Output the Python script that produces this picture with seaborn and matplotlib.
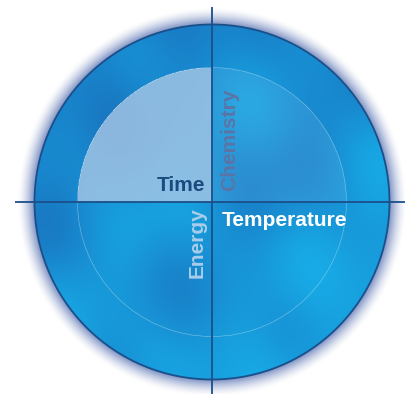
import numpy as np
import matplotlib
matplotlib.use("Agg")
import matplotlib.pyplot as plt
from matplotlib.patches import Circle
import seaborn as sns

# ---- data: the four quadrant labels ----
labels = ["Time", "Chemistry", "Energy", "Temperature"]
label_colors = ["#1b4a80", "#5b74a6", "#a9cdea", "#ffffff"]

sns.set_theme(style="white")
plt.rcParams['font.family'] = ['Liberation Sans', 'DejaVu Sans']

W, H = 406, 394
cx, cy = 212.0, 202.0
R_out, R_in = 177.5, 134.5

fig = plt.figure(figsize=(4.06, 3.94), dpi=100)
ax = fig.add_axes([0, 0, 1, 1])
ax.set_xlim(0, W)
ax.set_ylim(H, 0)
ax.axis('off')

yy, xx = np.mgrid[0:H, 0:W] + 0.5
r = np.hypot(xx - cx, yy - cy)
img = np.ones((H, W, 3))

# soft glow around the disc
t = np.clip((r - R_out) / 17.0, 0, 1)
glow = np.array([0.48, 0.56, 0.76])
w = (1 - t) ** 1.6
outside = r >= R_out
for k in range(3):
    img[..., k] = np.where(outside, glow[k] * w + 1.0 * (1 - w), img[..., k])

# water-like blue texture
dark = np.array([0.10, 0.44, 0.74])
bright = np.array([0.09, 0.68, 0.91])
f = (0.55 + 0.12 * np.sin(xx / 37 + yy / 55) + 0.10 * np.sin(yy / 23 - xx / 61 + 1.3)
     + 0.08 * np.cos((xx + yy) / 29) + 0.06 * np.sin(xx / 15 - yy / 40))
f = f + (yy - cy) / R_out * 0.18 + (xx - cx) / R_out * 0.12
f = np.clip(f, 0, 1)
blue = dark[None, None, :] + (bright - dark)[None, None, :] * f[..., None]

inside = r < R_out
img[inside] = blue[inside]

tl = (r < R_in) & (xx < cx) & (yy < cy)
tr = (r < R_in) & (xx >= cx) & (yy < cy)
img[tl] = blue[tl] * 0.2 + np.array([0.66, 0.78, 0.90]) * 0.8
img[tr] = blue[tr] * 0.85 + np.array([0.60, 0.80, 0.95]) * 0.15

ax.imshow(img, extent=(0, W, H, 0), interpolation='bilinear', zorder=0)

navy = "#1b4f8a"
ax.add_patch(Circle((cx, cy), R_in, fill=False, ec="white", lw=0.5, alpha=0.35, zorder=1))
ax.add_patch(Circle((cx, cy), R_out, fill=False, ec=navy, lw=1.3, zorder=2))
ax.plot([15, 406], [cy, cy], color=navy, lw=1.3, zorder=3, solid_capstyle='butt')
ax.plot([cx, cx], [7, 394], color=navy, lw=1.3, zorder=3, solid_capstyle='butt')

fs = 15
ax.text(205, 191, labels[0], color=label_colors[0], fontsize=fs, fontweight='bold',
        ha='right', va='baseline', zorder=4)
ax.text(235.5, 191, labels[1], color=label_colors[1], fontsize=fs, fontweight='bold',
        ha='left', va='baseline', rotation=90, rotation_mode='anchor', zorder=4)
ax.text(203, 278, labels[2], color=label_colors[2], fontsize=fs, fontweight='bold',
        ha='left', va='baseline', rotation=90, rotation_mode='anchor', zorder=4)
ax.text(222, 226, labels[3], color=label_colors[3], fontsize=fs, fontweight='bold',
        ha='left', va='baseline', zorder=4)

fig.savefig("out.png", dpi=100)
